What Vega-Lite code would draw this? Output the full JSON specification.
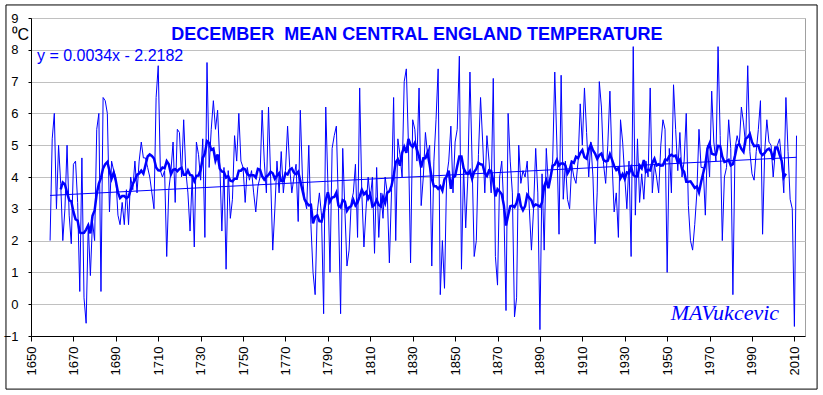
{
  "$schema": "https://vega.github.io/schema/vega-lite/v6.json",
  "width": 774,
  "height": 318,
  "autosize": {"type": "none"},
  "padding": {"left": 31, "top": 18, "right": 18, "bottom": 59},
  "background": "white",
  "config": {
    "view": {"stroke": "#a0a0a0", "strokeWidth": 1},
    "font": "Liberation Sans",
    "axis": {"labelFont": "Liberation Sans", "labelFontSize": 13, "labelColor": "#000000", "domainColor": "#000000", "tickColor": "#000000"},
    "axisY": {"labelOverlap": false, "labelFlush": false, "tickSize": 3, "labelPadding": 10, "grid": true, "gridColor": "#c0c0c0", "gridWidth": 1,
      "titleAngle": 0, "titleAlign": "left", "titleBaseline": "alphabetic", "titleX": -20, "titleY": 21, "titleFont": "Liberation Sans", "titleFontSize": 16, "titleFontWeight": "normal", "titleColor": "#000000"}
  },
  "datasets": {
    "cet": [
      {"year":1659,"temp":2.0},{"year":1660,"temp":5.2},{"year":1661,"temp":6.0},{"year":1662,"temp":3.0},{"year":1663,"temp":5.0},{"year":1664,"temp":3.8},{"year":1665,"temp":2.0},{"year":1666,"temp":3.0},{"year":1667,"temp":5.0},{"year":1668,"temp":2.8},
      {"year":1669,"temp":1.9},{"year":1670,"temp":4.4},{"year":1671,"temp":4.5},{"year":1672,"temp":3.2},{"year":1673,"temp":0.4},{"year":1674,"temp":4.6},{"year":1675,"temp":0.2},{"year":1676,"temp":-0.6},{"year":1677,"temp":2.5},{"year":1678,"temp":0.9},
      {"year":1679,"temp":2.6},{"year":1680,"temp":2.0},{"year":1681,"temp":5.5},{"year":1682,"temp":6.0},{"year":1683,"temp":0.4},{"year":1684,"temp":6.5},{"year":1685,"temp":6.4},{"year":1686,"temp":6.0},{"year":1687,"temp":2.9},{"year":1688,"temp":4.5},
      {"year":1689,"temp":4.2},{"year":1690,"temp":4.0},{"year":1691,"temp":2.8},{"year":1692,"temp":2.5},{"year":1693,"temp":3.2},{"year":1694,"temp":2.5},{"year":1695,"temp":3.6},{"year":1696,"temp":2.5},{"year":1697,"temp":4.0},{"year":1698,"temp":3.6},
      {"year":1699,"temp":4.5},{"year":1700,"temp":3.5},{"year":1701,"temp":4.5},{"year":1702,"temp":5.1},{"year":1703,"temp":4.6},{"year":1704,"temp":4.6},{"year":1705,"temp":4.3},{"year":1706,"temp":4.0},{"year":1707,"temp":3.5},{"year":1708,"temp":3.0},
      {"year":1709,"temp":6.5},{"year":1710,"temp":7.5},{"year":1711,"temp":4.2},{"year":1712,"temp":4.0},{"year":1713,"temp":4.2},{"year":1714,"temp":1.5},{"year":1715,"temp":3.6},{"year":1716,"temp":4.2},{"year":1717,"temp":5.1},{"year":1718,"temp":3.2},
      {"year":1719,"temp":5.5},{"year":1720,"temp":5.4},{"year":1721,"temp":4.0},{"year":1722,"temp":5.8},{"year":1723,"temp":4.2},{"year":1724,"temp":3.5},{"year":1725,"temp":2.3},{"year":1726,"temp":4.0},{"year":1727,"temp":1.8},{"year":1728,"temp":5.1},
      {"year":1729,"temp":4.7},{"year":1730,"temp":3.9},{"year":1731,"temp":5.2},{"year":1732,"temp":2.1},{"year":1733,"temp":7.6},{"year":1734,"temp":4.3},{"year":1735,"temp":5.5},{"year":1736,"temp":6.4},{"year":1737,"temp":5.5},{"year":1738,"temp":6.1},
      {"year":1739,"temp":4.5},{"year":1740,"temp":2.3},{"year":1741,"temp":4.3},{"year":1742,"temp":1.1},{"year":1743,"temp":4.2},{"year":1744,"temp":2.7},{"year":1745,"temp":3.3},{"year":1746,"temp":5.3},{"year":1747,"temp":4.5},{"year":1748,"temp":6.0},
      {"year":1749,"temp":4.5},{"year":1750,"temp":4.3},{"year":1751,"temp":3.2},{"year":1752,"temp":4.3},{"year":1753,"temp":3.9},{"year":1754,"temp":4.2},{"year":1755,"temp":3.5},{"year":1756,"temp":2.9},{"year":1757,"temp":3.7},{"year":1758,"temp":4.0},
      {"year":1759,"temp":6.1},{"year":1760,"temp":4.5},{"year":1761,"temp":3.5},{"year":1762,"temp":6.2},{"year":1763,"temp":4.0},{"year":1764,"temp":1.7},{"year":1765,"temp":3.0},{"year":1766,"temp":4.5},{"year":1767,"temp":3.5},{"year":1768,"temp":4.8},
      {"year":1769,"temp":3.5},{"year":1770,"temp":4.2},{"year":1771,"temp":5.6},{"year":1772,"temp":4.3},{"year":1773,"temp":3.5},{"year":1774,"temp":4.0},{"year":1775,"temp":4.4},{"year":1776,"temp":2.6},{"year":1777,"temp":6.1},{"year":1778,"temp":4.0},
      {"year":1779,"temp":3.3},{"year":1780,"temp":3.0},{"year":1781,"temp":5.0},{"year":1782,"temp":2.5},{"year":1783,"temp":1.0},{"year":1784,"temp":0.3},{"year":1785,"temp":2.9},{"year":1786,"temp":3.5},{"year":1787,"temp":2.8},{"year":1788,"temp":-0.3},
      {"year":1789,"temp":6.2},{"year":1790,"temp":3.8},{"year":1791,"temp":1.0},{"year":1792,"temp":4.9},{"year":1793,"temp":5.3},{"year":1794,"temp":5.6},{"year":1795,"temp":3.0},{"year":1796,"temp":-0.3},{"year":1797,"temp":4.9},{"year":1798,"temp":3.0},
      {"year":1799,"temp":1.2},{"year":1800,"temp":1.7},{"year":1801,"temp":3.2},{"year":1802,"temp":3.5},{"year":1803,"temp":4.4},{"year":1804,"temp":2.1},{"year":1805,"temp":6.8},{"year":1806,"temp":3.5},{"year":1807,"temp":1.8},{"year":1808,"temp":3.0},
      {"year":1809,"temp":4.0},{"year":1810,"temp":3.3},{"year":1811,"temp":4.0},{"year":1812,"temp":1.6},{"year":1813,"temp":4.3},{"year":1814,"temp":2.1},{"year":1815,"temp":3.5},{"year":1816,"temp":2.7},{"year":1817,"temp":4.0},{"year":1818,"temp":3.5},
      {"year":1819,"temp":1.3},{"year":1820,"temp":3.5},{"year":1821,"temp":6.5},{"year":1822,"temp":2.0},{"year":1823,"temp":5.2},{"year":1824,"temp":4.7},{"year":1825,"temp":4.0},{"year":1826,"temp":7.0},{"year":1827,"temp":7.4},{"year":1828,"temp":5.0},
      {"year":1829,"temp":1.3},{"year":1830,"temp":5.8},{"year":1831,"temp":5.5},{"year":1832,"temp":4.5},{"year":1833,"temp":6.8},{"year":1834,"temp":3.1},{"year":1835,"temp":4.0},{"year":1836,"temp":5.4},{"year":1837,"temp":4.7},{"year":1838,"temp":5.0},
      {"year":1839,"temp":1.2},{"year":1840,"temp":4.5},{"year":1841,"temp":5.8},{"year":1842,"temp":7.4},{"year":1843,"temp":0.3},{"year":1844,"temp":2.0},{"year":1845,"temp":0.5},{"year":1846,"temp":4.0},{"year":1847,"temp":4.5},{"year":1848,"temp":5.6},
      {"year":1849,"temp":3.5},{"year":1850,"temp":5.1},{"year":1851,"temp":5.5},{"year":1852,"temp":7.8},{"year":1853,"temp":1.1},{"year":1854,"temp":4.3},{"year":1855,"temp":2.4},{"year":1856,"temp":4.0},{"year":1857,"temp":7.3},{"year":1858,"temp":4.5},
      {"year":1859,"temp":1.5},{"year":1860,"temp":2.0},{"year":1861,"temp":4.7},{"year":1862,"temp":6.5},{"year":1863,"temp":5.1},{"year":1864,"temp":3.5},{"year":1865,"temp":5.3},{"year":1866,"temp":4.5},{"year":1867,"temp":3.5},{"year":1868,"temp":7.1},
      {"year":1869,"temp":1.5},{"year":1870,"temp":0.6},{"year":1871,"temp":4.0},{"year":1872,"temp":4.5},{"year":1873,"temp":3.0},{"year":1874,"temp":-0.2},{"year":1875,"temp":6.0},{"year":1876,"temp":4.5},{"year":1877,"temp":3.5},{"year":1878,"temp":-0.4},
      {"year":1879,"temp":0.2},{"year":1880,"temp":5.0},{"year":1881,"temp":3.8},{"year":1882,"temp":4.2},{"year":1883,"temp":4.0},{"year":1884,"temp":4.5},{"year":1885,"temp":3.0},{"year":1886,"temp":1.7},{"year":1887,"temp":3.0},{"year":1888,"temp":4.9},
      {"year":1889,"temp":3.5},{"year":1890,"temp":-0.8},{"year":1891,"temp":4.1},{"year":1892,"temp":1.7},{"year":1893,"temp":4.9},{"year":1894,"temp":3.7},{"year":1895,"temp":4.0},{"year":1896,"temp":4.5},{"year":1897,"temp":7.3},{"year":1898,"temp":5.0},
      {"year":1899,"temp":2.2},{"year":1900,"temp":7.2},{"year":1901,"temp":3.3},{"year":1902,"temp":4.5},{"year":1903,"temp":3.3},{"year":1904,"temp":3.0},{"year":1905,"temp":4.4},{"year":1906,"temp":4.0},{"year":1907,"temp":3.8},{"year":1908,"temp":4.5},
      {"year":1909,"temp":6.3},{"year":1910,"temp":5.0},{"year":1911,"temp":6.8},{"year":1912,"temp":5.4},{"year":1913,"temp":4.0},{"year":1914,"temp":5.1},{"year":1915,"temp":4.0},{"year":1916,"temp":1.9},{"year":1917,"temp":3.5},{"year":1918,"temp":7.0},
      {"year":1919,"temp":6.2},{"year":1920,"temp":4.4},{"year":1921,"temp":3.8},{"year":1922,"temp":5.0},{"year":1923,"temp":6.7},{"year":1924,"temp":4.5},{"year":1925,"temp":2.9},{"year":1926,"temp":3.5},{"year":1927,"temp":2.1},{"year":1928,"temp":5.8},
      {"year":1929,"temp":5.1},{"year":1930,"temp":4.0},{"year":1931,"temp":3.0},{"year":1932,"temp":4.5},{"year":1933,"temp":1.5},{"year":1934,"temp":8.1},{"year":1935,"temp":2.8},{"year":1936,"temp":5.2},{"year":1937,"temp":3.2},{"year":1938,"temp":4.1},
      {"year":1939,"temp":3.3},{"year":1940,"temp":4.5},{"year":1941,"temp":4.0},{"year":1942,"temp":6.8},{"year":1943,"temp":3.5},{"year":1944,"temp":4.4},{"year":1945,"temp":4.0},{"year":1946,"temp":3.5},{"year":1947,"temp":5.0},{"year":1948,"temp":5.8},
      {"year":1949,"temp":5.5},{"year":1950,"temp":1.0},{"year":1951,"temp":4.9},{"year":1952,"temp":3.5},{"year":1953,"temp":6.9},{"year":1954,"temp":5.5},{"year":1955,"temp":4.2},{"year":1956,"temp":5.4},{"year":1957,"temp":4.0},{"year":1958,"temp":4.5},
      {"year":1959,"temp":6.0},{"year":1960,"temp":3.1},{"year":1961,"temp":2.0},{"year":1962,"temp":1.7},{"year":1963,"temp":2.5},{"year":1964,"temp":3.5},{"year":1965,"temp":5.5},{"year":1966,"temp":4.3},{"year":1967,"temp":4.3},{"year":1968,"temp":2.8},
      {"year":1969,"temp":5.0},{"year":1970,"temp":4.0},{"year":1971,"temp":6.7},{"year":1972,"temp":5.1},{"year":1973,"temp":4.5},{"year":1974,"temp":8.1},{"year":1975,"temp":5.3},{"year":1976,"temp":2.0},{"year":1977,"temp":4.0},{"year":1978,"temp":4.3},
      {"year":1979,"temp":5.8},{"year":1980,"temp":4.9},{"year":1981,"temp":0.3},{"year":1982,"temp":4.9},{"year":1983,"temp":5.3},{"year":1984,"temp":5.0},{"year":1985,"temp":6.2},{"year":1986,"temp":5.7},{"year":1987,"temp":5.0},{"year":1988,"temp":7.5},
      {"year":1989,"temp":4.8},{"year":1990,"temp":4.1},{"year":1991,"temp":3.9},{"year":1992,"temp":4.8},{"year":1993,"temp":5.5},{"year":1994,"temp":6.4},{"year":1995,"temp":2.2},{"year":1996,"temp":4.8},{"year":1997,"temp":5.8},{"year":1998,"temp":5.1},
      {"year":1999,"temp":5.0},{"year":2000,"temp":4.0},{"year":2001,"temp":4.8},{"year":2002,"temp":5.0},{"year":2003,"temp":5.2},{"year":2004,"temp":4.5},{"year":2005,"temp":3.5},{"year":2006,"temp":6.5},{"year":2007,"temp":4.8},{"year":2008,"temp":3.3},
      {"year":2009,"temp":3.0},{"year":2010,"temp":-0.7},{"year":2011,"temp":5.3}
    ],
    "trend": [
      {"year": 1659, "temp": 3.42},
      {"year": 2011, "temp": 4.62}
    ]
  },
  "layer": [
    {
      "data": {"name": "cet"},
      "mark": {"type": "line", "color": "#0000ff", "strokeWidth": 1},
      "encoding": {
        "x": {
          "field": "year", "type": "quantitative", "title": null,
          "scale": {"domain": [1650, 2015], "nice": false, "zero": false},
          "axis": {
            "values": [1650,1655,1660,1665,1670,1675,1680,1685,1690,1695,1700,1705,1710,1715,1720,1725,1730,1735,1740,1745,1750,1755,1760,1765,1770,1775,1780,1785,1790,1795,1800,1805,1810,1815,1820,1825,1830,1835,1840,1845,1850,1855,1860,1865,1870,1875,1880,1885,1890,1895,1900,1905,1910,1915,1920,1925,1930,1935,1940,1945,1950,1955,1960,1965,1970,1975,1980,1985,1990,1995,2000,2005,2010,2015],
            "labelExpr": "(datum.value - 1650) % 20 == 0 ? '' + datum.value : ''",
            "labelAngle": -90,
            "labelAlign": "right",
            "labelBaseline": "middle",
            "labelPadding": 5,
            "labelOverlap": false,
            "labelFlush": false,
            "tickSize": 5,
            "grid": false
          }
        },
        "y": {
          "field": "temp", "type": "quantitative", "title": "⁰C",
          "scale": {"domain": [-1, 9], "nice": false, "zero": false},
          "axis": {"values": [-1,0,1,2,3,4,5,6,7,8,9], "labelOverlap": false}
        }
      }
    },
    {
      "data": {"name": "cet"},
      "transform": [
        {"window": [{"op": "mean", "field": "temp", "as": "rm"}, {"op": "count", "as": "n"}], "frame": [-5, 5], "sort": [{"field": "year"}]},
        {"filter": "datum.n == 11"}
      ],
      "mark": {"type": "line", "color": "#0000ff", "strokeWidth": 2.5},
      "encoding": {
        "x": {"field": "year", "type": "quantitative", "title": null},
        "y": {"field": "rm", "type": "quantitative", "title": "⁰C", "axis": {"values": [-1,0,1,2,3,4,5,6,7,8,9], "labelOverlap": false}}
      }
    },
    {
      "data": {"name": "trend"},
      "mark": {"type": "line", "color": "#0000ff", "strokeWidth": 1},
      "encoding": {
        "x": {"field": "year", "type": "quantitative", "title": null},
        "y": {"field": "temp", "type": "quantitative", "title": "⁰C", "axis": {"values": [-1,0,1,2,3,4,5,6,7,8,9], "labelOverlap": false}}
      }
    },
    {
      "data": {"values": [{}]},
      "mark": {"type": "text", "text": "DECEMBER\u00a0 MEAN CENTRAL ENGLAND TEMPERATURE", "font": "Liberation Sans", "fontSize": 18, "fontWeight": "bold", "color": "#0000ff", "align": "center", "baseline": "alphabetic"},
      "encoding": {
        "x": {"datum": 1832.0, "type": "quantitative", "title": null},
        "y": {"datum": 8.31, "type": "quantitative", "title": "⁰C", "axis": {"values": [-1,0,1,2,3,4,5,6,7,8,9], "labelOverlap": false}}
      }
    },
    {
      "data": {"values": [{}]},
      "mark": {"type": "text", "text": "y = 0.0034x - 2.2182", "font": "Liberation Sans", "fontSize": 16, "color": "#0000ff", "align": "left", "baseline": "alphabetic"},
      "encoding": {
        "x": {"datum": 1652.8, "type": "quantitative", "title": null},
        "y": {"datum": 7.64, "type": "quantitative", "title": "⁰C", "axis": {"values": [-1,0,1,2,3,4,5,6,7,8,9], "labelOverlap": false}}
      }
    },
    {
      "data": {"values": [{}]},
      "mark": {"type": "text", "text": "MAVukcevic", "font": "Liberation Serif", "fontStyle": "italic", "fontSize": 22, "color": "#0000ff", "align": "center", "baseline": "alphabetic"},
      "encoding": {
        "x": {"datum": 1977.2, "type": "quantitative", "title": null},
        "y": {"datum": -0.5, "type": "quantitative", "title": "⁰C", "axis": {"values": [-1,0,1,2,3,4,5,6,7,8,9], "labelOverlap": false}}
      }
    },
    {
      "data": {"values": [{}]},
      "mark": {"type": "rect", "fill": null, "fillOpacity": 0, "stroke": "#000000", "strokeWidth": 1},
      "encoding": {
        "x": {"datum": 1638.2, "type": "quantitative", "title": null},
        "x2": {"datum": 2020.7},
        "y": {"datum": 9.41, "type": "quantitative", "title": "⁰C", "axis": {"values": [-1,0,1,2,3,4,5,6,7,8,9], "labelOverlap": false}},
        "y2": {"datum": -2.67}
      }
    }
  ]
}
